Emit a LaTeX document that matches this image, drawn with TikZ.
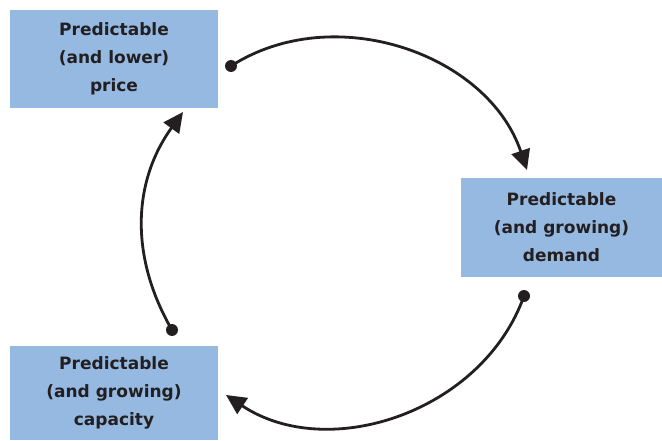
\documentclass[tikz,border=0pt]{standalone}
\usepackage{fontspec}
\setmainfont{DejaVu Sans}
\usetikzlibrary{arrows.meta}

\definecolor{boxblue}{HTML}{95B9E1}
\definecolor{ink}{HTML}{231F20}

\tikzset{
  cyclebox/.style={fill=boxblue, draw=none, align=center, text=ink,
    font=\fontsize{17}{28}\selectfont\bfseries, inner sep=0pt},
  cyclearrow/.style={draw=ink, line width=2.8pt,
    -{Triangle[length=20pt,width=19pt]}},
  dotend/.style={fill=ink, circle, inner sep=0pt, minimum size=12pt}
}

\begin{document}
\begin{tikzpicture}[x=1pt, y=1pt]
        \useasboundingbox (0,0) rectangle (662,440);
        % Boxes
        \node[cyclebox, minimum width=208, minimum height=98] (price) at (114,381)
            {Predictable\\(and lower)\\price};
        \node[cyclebox, minimum width=201, minimum height=99] (demand) at (561.5,212.5)
            {Predictable\\(and growing)\\demand};
        \node[cyclebox, minimum width=208, minimum height=94] (capacity) at (114,47)
            {Predictable\\(and growing)\\capacity};
        % Start points and tips
        \coordinate (s1) at (231,374);
        \coordinate (e1) at (527,270);
        \coordinate (s2) at (524,144);
        \coordinate (e2) at (226,45);
        \coordinate (s3) at (172,110);
        \coordinate (e3) at (183,328);
        % Arcs
        \draw[cyclearrow] (s1) to[bend left=52] (e1);
        \draw[cyclearrow] (s2) to[bend left=52] (e2);
        \draw[cyclearrow] (s3) to[bend left=33] (e3);
        % Dots
        \node[dotend] (d1) at (s1) {};
        \node[dotend] (d2) at (s2) {};
        \node[dotend] (d3) at (s3) {};
    \end{tikzpicture}
\end{document}
